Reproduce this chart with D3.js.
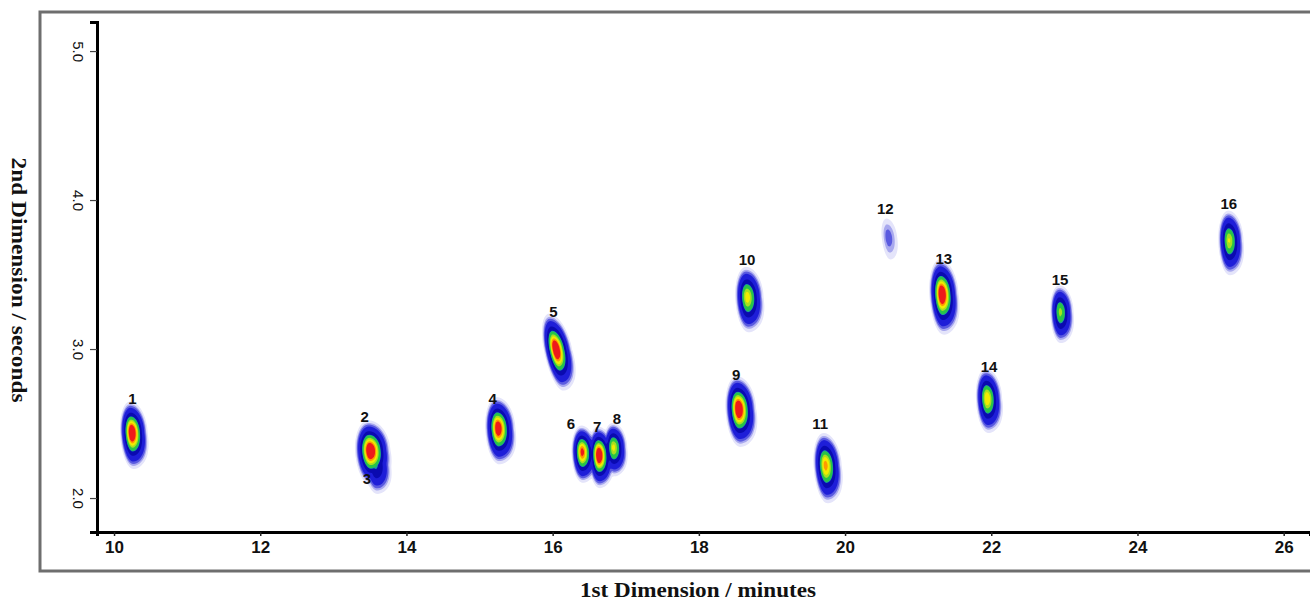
<!DOCTYPE html>
<html>
<head>
<meta charset="utf-8">
<script src="https://cdn.jsdelivr.net/npm/d3@7"></script>
<style>
  body { margin: 0; background: #fff; }
  svg { display: block; }
  .tick-y text { font: 15px "Liberation Sans", Arial, sans-serif; fill: #111; }
  .tick-x text { font: bold 17px "Liberation Sans", Arial, sans-serif; fill: #111; }
  .peak-label { font: bold 15px "Liberation Sans", Arial, sans-serif; fill: #111; }
  .axis-title { font: bold 22px "Liberation Serif", "Times New Roman", serif; fill: #111; }
</style>
</head>
<body>
<div class="chart"></div>
<script>
// peaks: first dimension (min), second dimension (s), relative height, widths
const peakIds   = ['1', '2', '3', '4', '5', '6', '7', '8', '9', '10', '11', '12', '13', '14', '15', '16'];
const firstDim  = [10.24, 13.50, 13.58, 15.25, 16.04, 16.40, 16.63, 16.83, 18.54, 18.66, 19.73, 20.59, 21.32, 21.94, 22.94, 25.25];
const secondDim = [2.44, 2.32, 2.22, 2.47, 3.00, 2.31, 2.29, 2.34, 2.60, 3.35, 2.22, 3.75, 3.37, 2.67, 3.25, 3.73];
const heights   = [1.0, 1.0, 0.45, 0.95, 1.0, 0.88, 1.0, 0.7, 1.0, 0.72, 0.8, 0.12, 1.0, 0.75, 0.62, 0.68];
const width1    = [0.07, 0.09, 0.077, 0.077, 0.072, 0.064, 0.064, 0.064, 0.078, 0.076, 0.074, 0.07, 0.074, 0.07, 0.064, 0.068];
const width2    = [0.088, 0.085, 0.08, 0.088, 0.1, 0.076, 0.08, 0.074, 0.092, 0.09, 0.095, 0.095, 0.098, 0.088, 0.082, 0.09];
const slant     = [0.1, 0.1, 0.1, 0.08, 0.38, 0.05, 0.05, 0.05, 0.1, 0.08, 0.12, 0.2, 0.1, 0.08, 0.05, 0.05];

// label anchors (min, s)
const labelDim1 = [10.25, 13.43, 13.46, 15.18, 16.01, 16.25, 16.61, 16.88, 18.51, 18.66, 19.66, 20.55, 21.35, 21.97, 22.94, 25.25];
const labelDim2 = [2.671, 2.544, 2.134, 2.671, 3.255, 2.497, 2.483, 2.537, 2.826, 3.604, 2.503, 3.946, 3.611, 2.886, 3.470, 3.980];

const xTicks = [10, 12, 14, 16, 18, 20, 22, 24, 26];
const yTicks = [2.0, 3.0, 4.0, 5.0];

// colour levels of the intensity map
const levels = [0.045, 0.075, 0.1, 0.14, 0.28, 0.43, 0.46, 0.58, 0.66, 0.75, 0.82];
const levelColors = ['#e4e4fa', '#a8a8ee', '#5a5ae0', '#1e1ed8', '#0a0ab0', '#1a9aa0', '#28c448',
                     '#a8e020', '#f2ec00', '#ff9a00', '#ee1a1a'];

const svgWidth = 1310, svgHeight = 600;
const plot = { left: 97, right: 1310, top: 22, bottom: 532 };

const svg = d3.select(".chart").append("svg")
    .attr("width", svgWidth)
    .attr("height", svgHeight);

// outer frame
svg.append("rect")
    .attr("x", 40).attr("y", 12)
    .attr("width", 1300).attr("height", 559)
    .attr("fill", "none")
    .attr("stroke", "#6e6e6e")
    .attr("stroke-width", 3);

const xScale = d3.scaleLinear().domain([9.767, 26.36]).range([plot.left, plot.right]);
const yScale = d3.scaleLinear().domain([1.772, 5.195]).range([plot.bottom, plot.top]);

// intensity grid
const cell = 2;
const nx = Math.ceil((plot.right - plot.left) / cell);
const ny = Math.ceil((plot.bottom - plot.top) / cell);
const values = new Float64Array(nx * ny);
for (let j = 0; j < ny; j++) {
    const v = yScale.invert(plot.top + (j + 0.5) * cell);
    for (let i = 0; i < nx; i++) {
        const t = xScale.invert(plot.left + (i + 0.5) * cell);
        let best = 0;
        for (let k = 0; k < peakIds.length; k++) {
            const dv = v - secondDim[k];
            const dt = t - (firstDim[k] - slant[k] * dv);
            if (Math.abs(dt) > 0.7 || Math.abs(dv) > 0.7) continue;
            const sy = dv < 0 ? width2[k] * 1.12 : width2[k] * 0.95;
            const sx = dt > 0 ? width1[k] * (1.25 + (dv < 0 ? Math.min(-dv / width2[k], 2) * 0.12 : 0)) : width1[k] * 0.9;
            const val = heights[k] * Math.exp(-0.5 * (dt * dt / (sx * sx) + dv * dv / (sy * sy)));
            if (val > best) best = val;
        }
        values[i + j * nx] = best;
    }
}

const contours = d3.contours().size([nx, ny]).thresholds(levels)(values);
const colorScale = d3.scaleOrdinal().domain(levels).range(levelColors);
const path = d3.geoPath(d3.geoIdentity().scale(cell).translate([plot.left, plot.top]));

svg.append("g").selectAll("path")
    .data(contours)
    .enter()
    .append("path")
    .attr("d", path)
    .attr("fill", d => colorScale(d.value));

// y axis
const yAxis = svg.append("g")
    .classed("tick-y", true)
    .attr("transform", `translate(${plot.left}, 0)`)
    .call(d3.axisLeft(yScale).tickValues(yTicks).tickFormat(d3.format(".1f")).tickSize(7).tickPadding(0));
yAxis.select(".domain").attr("stroke", "#000").attr("stroke-width", 3);
yAxis.selectAll(".tick line").attr("stroke", "#444").attr("stroke-width", 1.2);
yAxis.selectAll(".tick text")
    .attr("x", 0).attr("y", 0).attr("dy", 0)
    .attr("text-anchor", "middle")
    .attr("dominant-baseline", "central")
    .attr("transform", "translate(-19, 0) rotate(90)");

// x axis
const xAxis = svg.append("g")
    .classed("tick-x", true)
    .attr("transform", `translate(0, ${plot.bottom})`)
    .call(d3.axisBottom(xScale).tickValues(xTicks).tickSize(4).tickPadding(3));
xAxis.select(".domain").attr("stroke", "#000").attr("stroke-width", 3);
xAxis.selectAll(".tick line").attr("stroke", "#222").attr("stroke-width", 1.5);
xAxis.selectAll(".tick text").attr("dy", "0.8em");

// peak labels
svg.append("g").selectAll("text")
    .data(peakIds)
    .enter()
    .append("text")
    .classed("peak-label", true)
    .attr("x", (d, i) => xScale(labelDim1[i]))
    .attr("y", (d, i) => yScale(labelDim2[i]))
    .attr("text-anchor", "middle")
    .attr("dominant-baseline", "central")
    .text(d => d);

// axis titles
svg.append("text")
    .classed("axis-title", true)
    .attr("text-anchor", "middle")
    .attr("dominant-baseline", "central")
    .attr("textLength", 236)
    .attr("lengthAdjust", "spacingAndGlyphs")
    .attr("transform", "translate(698, 589)")
    .text("1st Dimension / minutes");

svg.append("text")
    .classed("axis-title", true)
    .attr("text-anchor", "middle")
    .attr("dominant-baseline", "central")
    .attr("textLength", 245)
    .attr("lengthAdjust", "spacingAndGlyphs")
    .attr("transform", "translate(19, 280) rotate(90)")
    .text("2nd Dimension / seconds");
</script>
</body>
</html>
